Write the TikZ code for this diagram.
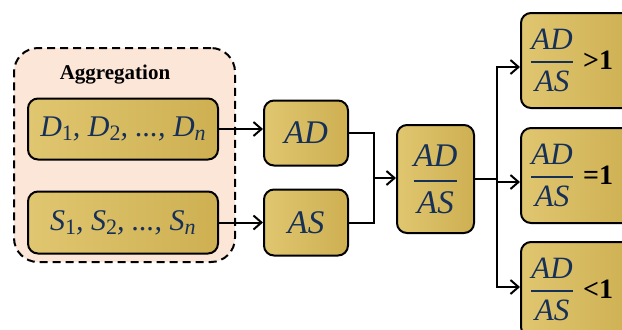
\documentclass[tikz,border=0pt]{standalone}
\usepackage{fontspec}
\usepackage{amsmath}
\usetikzlibrary{arrows.meta}
\setmainfont{Liberation Serif}
\definecolor{goldlight}{RGB}{238,222,148}
\definecolor{goldmid}{RGB}{224,198,112}
\definecolor{golddark}{RGB}{206,176,82}
\definecolor{peach}{RGB}{252,230,216}
\definecolor{navy}{RGB}{22,48,88}
\newcommand{\sub}[1]{\raisebox{-.3ex}{\fontsize{11}{12}\selectfont #1}}
\newcommand{\ratio}{$\genfrac{}{}{1.2pt}{0}{\mbox{\itshape AD}}{\mbox{\itshape AS}}$}
\newcommand{\cmp}[1]{\hspace{4pt}{\upshape\bfseries\color{black}\fontsize{14}{14}\selectfont #1}}

\begin{document}
\begin{tikzpicture}[x=0.5pt,y=-0.5pt,every node/.style={align=center},
    gold/.style={draw,line width=1pt,rounded corners=5pt,left color=goldmid,middle color=goldlight,right color=golddark,text=navy,font=\fontsize{16.5}{20}\selectfont\itshape,inner sep=0pt},
    result/.style={gold,anchor=west,minimum width=56pt,minimum height=47.5pt,text width=48pt,align=left,font=\fontsize{15.5}{18}\selectfont\itshape},
    link/.style={line width=1pt,-{Straight Barb[length=4pt,width=7pt]}}]
    \useasboundingbox (0,0) rectangle (622,329);
    \clip (0,0) rectangle (622,329);
    \node[draw,line width=1pt,dash pattern=on 4pt off 2.5pt,rounded corners=12pt,fill=peach,minimum width=110.5pt,minimum height=107pt] (agg) at (124.5,155) {};
    \node[font=\fontsize{10.5}{12}\selectfont\bfseries] (agglabel) at (115,75) {Aggregation};
    \node[gold,minimum width=95pt,minimum height=30.5pt,font=\fontsize{15}{18}\selectfont\itshape] (dlist) at (123,129) {D\sub{\upshape 1}, D\sub{\upshape 2}, ..., D\sub{n}};
    \node[gold,minimum width=95pt,minimum height=31pt,font=\fontsize{15}{18}\selectfont\itshape] (slist) at (123,222.5) {S\sub{\upshape 1}, S\sub{\upshape 2}, ..., S\sub{n}};
    \node[gold,minimum width=42pt,minimum height=32.5pt] (ad) at (306,133) {AD};
    \node[gold,minimum width=42pt,minimum height=33pt] (as) at (306,222.5) {AS};
    \node[gold,minimum width=38.5pt,minimum height=54pt] (ratio) at (435.5,179) {\ratio};
    \node[result] (gt) at (520,60.5) {\ratio\cmp{>1}};
    \node[result] (eq) at (520,175.5) {\ratio\cmp{=1}};
    \node[result] (lt) at (520,289.5) {\ratio\cmp{<1}};
    \coordinate (merge) at (374,178);
    \coordinate (fork) at (497,179);
    \draw[link] (dlist.east) -- (dlist.east -| ad.west);
    \draw[link] (slist.east) -- (slist.east -| as.west);
    \draw[line width=1pt] (ad.east) -| (merge);
    \draw[line width=1pt] (as.east) -| (merge);
    \draw[link] (merge) -- (merge -| ratio.west);
    \draw[line width=1pt] (ratio.east) -- (fork);
    \draw[link] (fork) |- ([yshift=-3.25pt]gt.west);
    \draw[link] (fork) |- ([yshift=-3.25pt]eq.west);
    \draw[link] (fork) |- ([yshift=1.25pt]lt.west);
\end{tikzpicture}
\end{document}
